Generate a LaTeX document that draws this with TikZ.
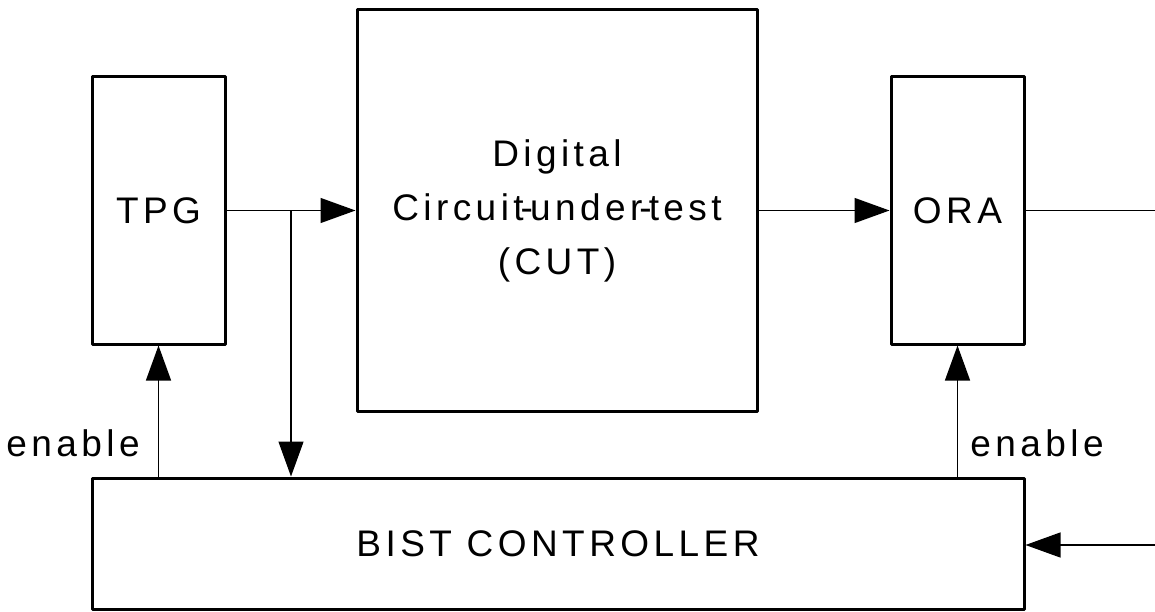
\documentclass[tikz,border=0pt]{standalone}
\usepackage{fontspec}
\setmainfont{Liberation Sans}[LetterSpace=12]
\usetikzlibrary{arrows.meta}

% a tight dash that closes up on the letters beside it
\newcommand{\tightdash}{\kern-3pt-\kern-3pt}

\begin{document}
\begin{tikzpicture}[x=1pt,y=-1pt,
  blk/.style={draw, line width=3pt, line join=round, inner sep=0pt, align=center,
              font=\fontsize{37}{54}\selectfont},
  wire/.style={line width=1.3pt},
  arr/.style={wire, -{Triangle[length=35pt,width=25pt]}},
  lbl/.style={font=\fontsize{37}{54}\selectfont, inner sep=0pt}
]
\useasboundingbox (0,0) rectangle (1155,612);

% functional blocks
\node[blk, minimum width=133pt, minimum height=267pt] (tpg) at (158.5,210.5) {TPG};
\node[blk, minimum width=400pt, minimum height=401pt] (cut) at (557,210.5)
  {Digital\\Circuit\tightdash under\tightdash test\\(CUT)};
\node[blk, minimum width=133pt, minimum height=267pt] (ora) at (957.5,210.5) {ORA};
\node[blk, minimum width=932pt, minimum height=131pt] (bist) at (558,543.5) {BIST CONTROLLER};

% free ends and the fan-out point
\coordinate (br) at (291,210.5);
\coordinate (outR) at (1155,210.5);
\coordinate (inR) at (1155,545);

% data path
\draw[arr] (tpg.east) -- (cut.west);
\draw[arr] (br) -- (br |- bist.north);
\draw[arr] (cut.east) -- (ora.west);
\draw[wire] (ora.east) -- (outR);

% control path
\draw[arr] (tpg.south |- bist.north) -- (tpg.south);
\draw[arr] (ora.south |- bist.north) -- (ora.south);
\draw[arr] (inR) -- (inR -| bist.east);

\node[lbl, anchor=base] (en1) at (73,456) {enable};
\node[lbl, anchor=base] (en2) at (1037,456) {enable};
\end{tikzpicture}
\end{document}
